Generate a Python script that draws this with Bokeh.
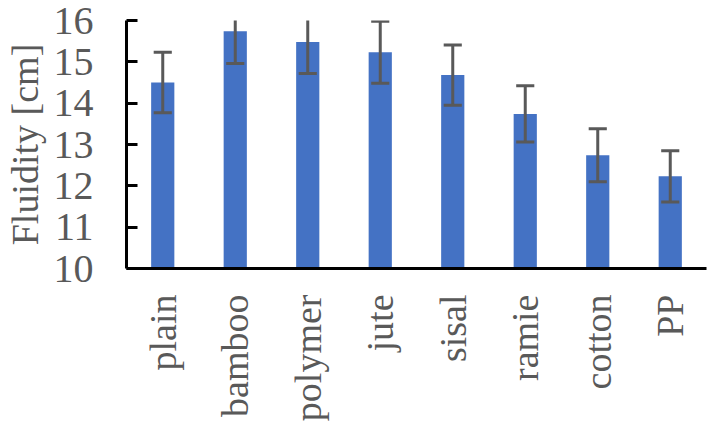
import math
from bokeh.plotting import figure
from bokeh.models import ColumnDataSource, FactorRange, Range1d
from bokeh.transform import dodge
from bokeh.embed import file_html
from bokeh.resources import INLINE

categories = ["plain", "bamboo", "polymer", "jute", "sisal", "ramie", "cotton", "PP"]
fluidity = [14.50, 15.74, 15.48, 15.23, 14.68, 13.74, 12.74, 12.23]
error = [0.73, 0.78, 0.76, 0.75, 0.73, 0.68, 0.64, 0.62]
y_ticks = [10, 11, 12, 13, 14, 15, 16]

lower = [v - e for v, e in zip(fluidity, error)]
upper = [v + e for v, e in zip(fluidity, error)]
src = ColumnDataSource(dict(cat=categories, val=fluidity, lo=lower, hi=upper))

FONT = "Liberation Serif"
GREY = "#595959"

p = figure(
    x_range=FactorRange(factors=categories),
    y_range=Range1d(10, 16),
    width=711, height=424,
    min_border_left=125, min_border_right=5, min_border_top=20, min_border_bottom=154,
    output_backend="svg", toolbar_location=None,
)
p.outline_line_color = None
p.xgrid.grid_line_color = None
p.ygrid.grid_line_color = None

p.vbar(x="cat", top="val", bottom=10, width=0.32, source=src,
       fill_color="#4472C4", line_color=None)

# error bars
p.segment(x0="cat", x1="cat", y0="lo", y1="hi", source=src, line_color=GREY, line_width=3)
p.segment(x0=dodge("cat", -0.125, range=p.x_range), x1=dodge("cat", 0.125, range=p.x_range),
          y0="hi", y1="hi", source=src, line_color=GREY, line_width=3)
p.segment(x0=dodge("cat", -0.125, range=p.x_range), x1=dodge("cat", 0.125, range=p.x_range),
          y0="lo", y1="lo", source=src, line_color=GREY, line_width=3)

# y axis
ya = p.yaxis[0]
ya.ticker = y_ticks
ya.axis_line_color = "black"
ya.axis_line_width = 3
ya.major_tick_line_color = "black"
ya.major_tick_line_width = 3
ya.major_tick_in = 11
ya.major_tick_out = 0
ya.minor_tick_line_color = None
ya.major_label_standoff = 33
ya.major_label_text_font = FONT
ya.major_label_text_font_size = "40px"
ya.major_label_text_color = GREY
ya.axis_label = "Fluidity [cm]"
ya.axis_label_text_font = FONT
ya.axis_label_text_font_size = "38px"
ya.axis_label_text_font_style = "normal"
ya.axis_label_text_color = GREY
ya.axis_label_standoff = 5

# x axis
xa = p.xaxis[0]
xa.axis_line_color = "black"
xa.axis_line_width = 3
xa.major_tick_line_color = None
xa.minor_tick_line_color = None
xa.major_label_orientation = math.pi / 2
xa.major_label_standoff = 20
xa.major_label_text_font = FONT
xa.major_label_text_font_size = "38px"
xa.major_label_text_color = GREY

open("out.html", "w").write(file_html(p, INLINE))
